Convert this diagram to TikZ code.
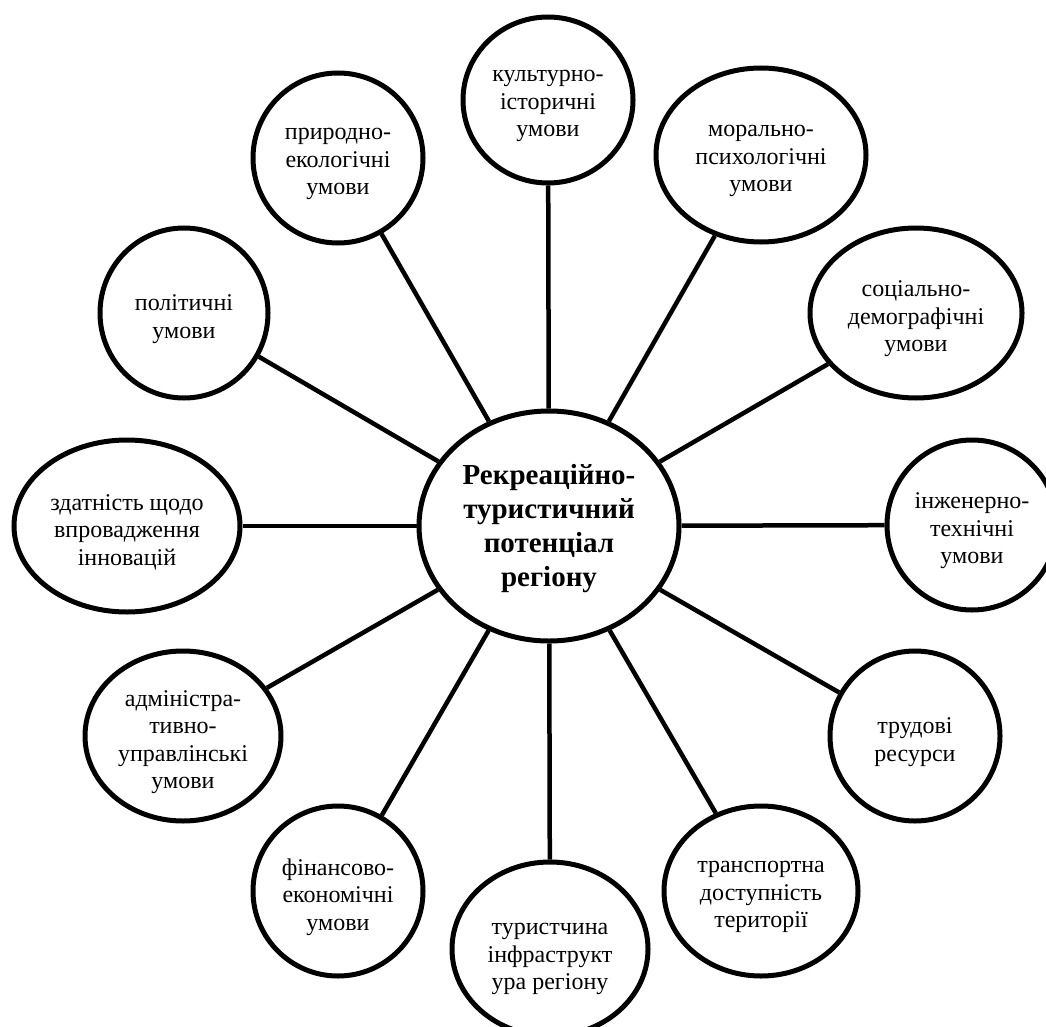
\documentclass[tikz,border=0pt]{standalone}
\usepackage{fontspec}
\setmainfont{Liberation Serif}
\usetikzlibrary{shapes.geometric}
\tikzset{
  bub/.style={ellipse, draw, line width=5pt, inner sep=0pt},
  btxt/.style={align=center, inner sep=0pt, yshift=-6pt,
    font=\fontsize{24}{27.5}\selectfont},
  htxt/.style={align=center, inner sep=0pt, yshift=-3pt,
    font=\bfseries\fontsize{29}{34}\selectfont},
  link/.style={line width=4.5pt}
}
\begin{document}
\begin{tikzpicture}[x=1pt,y=-1pt]
\useasboundingbox (0,0) rectangle (1046,1027);
\node[bub, minimum width=260pt, minimum height=230pt,
  label={[htxt]center:Рекреаційно-\\туристичний\\потенціал\\регіону}] (c) at (549,526) {};
\node[bub, minimum width=170pt, minimum height=166pt,
  label={[btxt]center:культурно-\\історичні\\умови}] (kult) at (548,100) {};
\node[bub, minimum width=170pt, minimum height=170pt,
  label={[btxt]center:природно-\\екологічні\\умови}] (pryr) at (338,158) {};
\node[bub, minimum width=210pt, minimum height=174pt,
  label={[btxt]center:морально-\\психологічні\\умови}] (moral) at (761,155) {};
\node[bub, minimum width=168pt, minimum height=170pt,
  label={[btxt]center:політичні\\умови}] (polit) at (184,313) {};
\node[bub, minimum width=212pt, minimum height=170pt,
  label={[btxt]center:соціально-\\демографічні\\умови}] (soc) at (916,313) {};
\node[bub, minimum width=226pt, minimum height=172pt,
  label={[btxt]center:здатність щодо\\впровадження\\інновацій}] (zdat) at (127,526) {};
\node[bub, minimum width=170pt, minimum height=170pt,
  label={[btxt]center:інженерно-\\технічні\\умови}] (inzh) at (972,525) {};
\node[bub, minimum width=196pt, minimum height=170pt,
  label={[btxt]center:адміністра-\\тивно-\\управлінські\\умови}] (admin) at (183,736) {};
\node[bub, minimum width=170pt, minimum height=170pt,
  label={[btxt]center:трудові\\ресурси}] (trud) at (915,736) {};
\node[bub, minimum width=170pt, minimum height=170pt,
  label={[btxt]center:фінансово-\\економічні\\умови}] (fin) at (338,891) {};
\node[bub, minimum width=194pt, minimum height=170pt,
  label={[btxt]center:транспортна\\доступність\\території}] (trans) at (761,891) {};
\node[bub, minimum width=196pt, minimum height=174pt,
  label={[btxt, yshift=-4pt]center:туристчина\\інфраструкт\\ура регіону}] (tur) at (550,949) {};
\foreach \n in {kult,pryr,moral,polit,soc,zdat,inzh,admin,trud,fin,trans,tur}
  \draw[link] (c) -- (\n);
\end{tikzpicture}
\end{document}
